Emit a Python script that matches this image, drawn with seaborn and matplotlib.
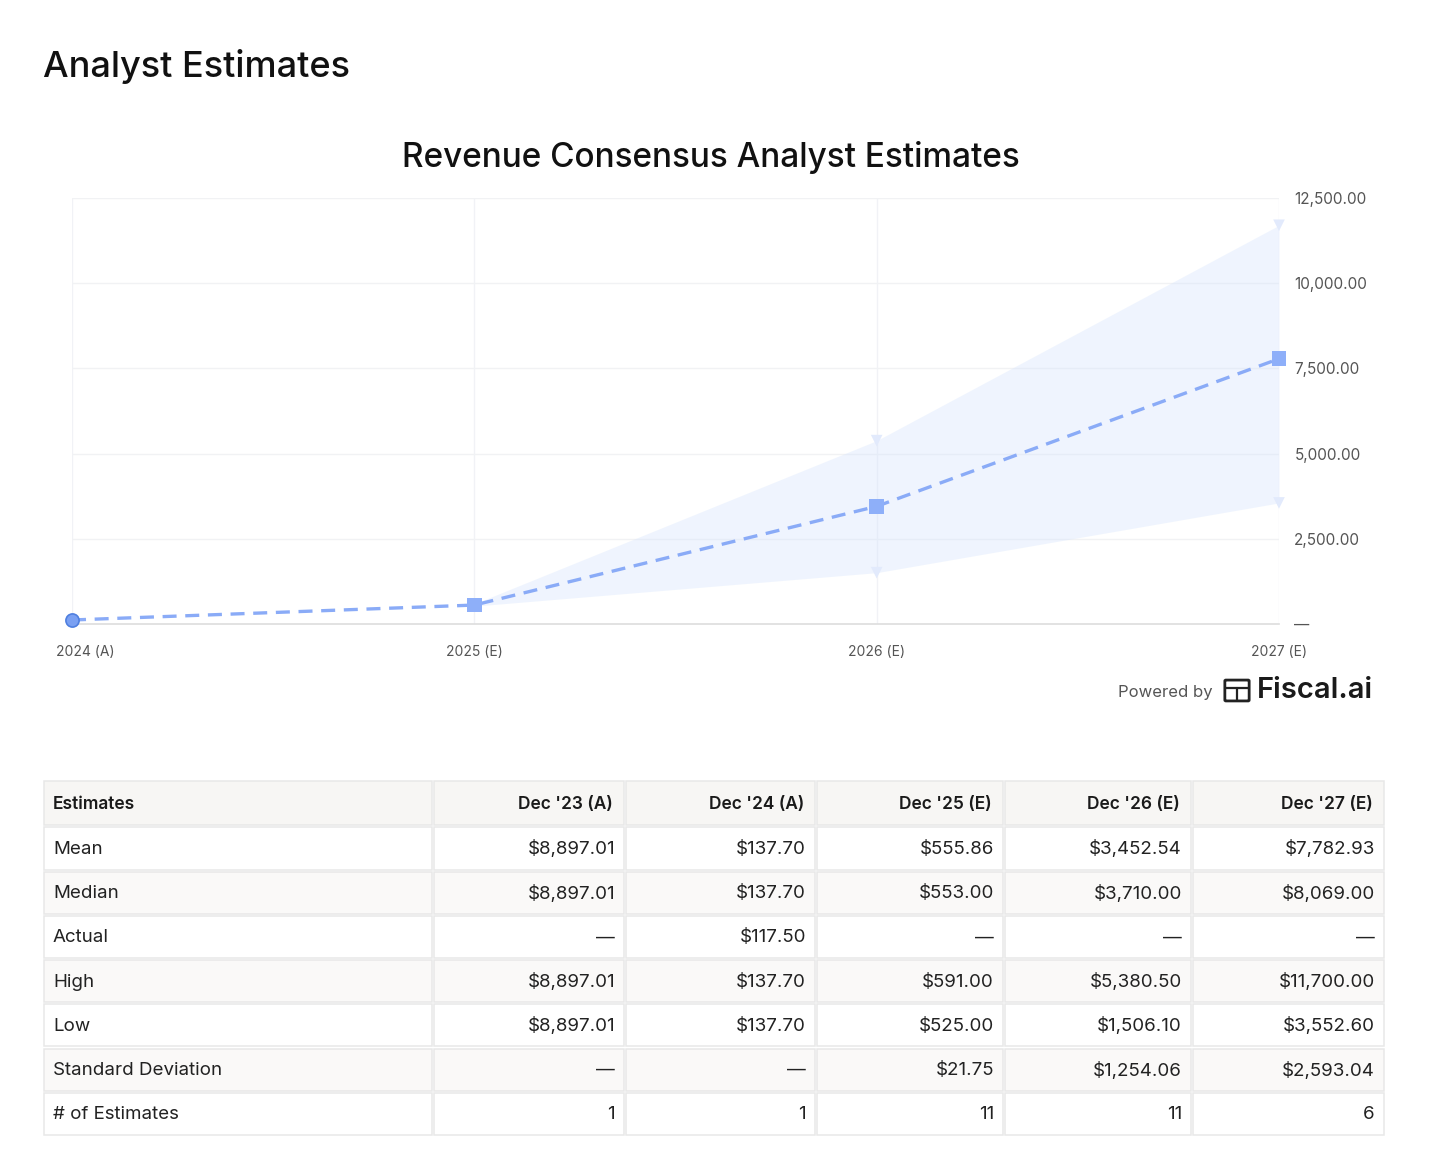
import matplotlib
matplotlib.use("Agg")
import matplotlib.pyplot as plt
import matplotlib.patches as mpatches
import matplotlib.transforms as mtransforms
import numpy as np
import pandas as pd
import seaborn as sns

# chart data
periods = ["2024 (A)", "2025 (E)", "2026 (E)", "2027 (E)"]
mean_vals = [117.50, 555.86, 3452.54, 7782.93]
high_vals = [np.nan, 591.00, 5380.50, 11700.00]
low_vals = [np.nan, 525.00, 1506.10, 3552.60]
y_ticks = [0, 2500, 5000, 7500, 10000, 12500]

# table data
col_headers = ["Estimates", "Dec '23 (A)", "Dec '24 (A)", "Dec '25 (E)", "Dec '26 (E)", "Dec '27 (E)"]
row_labels = ["Mean", "Median", "Actual", "High", "Low", "Standard Deviation", "# of Estimates"]
row_mean = ["$8,897.01", "$137.70", "$555.86", "$3,452.54", "$7,782.93"]
row_median = ["$8,897.01", "$137.70", "$553.00", "$3,710.00", "$8,069.00"]
row_actual = ["—", "$117.50", "—", "—", "—"]
row_high = ["$8,897.01", "$137.70", "$591.00", "$5,380.50", "$11,700.00"]
row_low = ["$8,897.01", "$137.70", "$525.00", "$1,506.10", "$3,552.60"]
row_std = ["—", "—", "$21.75", "$1,254.06", "$2,593.04"]
row_count = ["1", "1", "11", "11", "6"]
table_rows = [row_mean, row_median, row_actual, row_high, row_low, row_std, row_count]

W, H = 1436, 1166
sns.set_theme(style="white")
plt.rcParams["font.family"] = ["Inter", "DejaVu Sans"]

fig = plt.figure(figsize=(W / 100, H / 100), dpi=100)


def fx(px):
    return px / W


def fy(py):
    return 1 - py / H


fig.text(fx(43), fy(66), "Analyst Estimates", fontsize=26, fontweight="medium",
         color="#111111", ha="left", va="center")
fig.text(fx(711), fy(158), "Revenue Consensus Analyst Estimates", fontsize=24,
         fontweight="medium", color="#111111", ha="center", va="center")

# ---- chart ----
ax = fig.add_axes([fx(72), fy(624), fx(1279) - fx(72), fy(198) - fy(624)])
df = pd.DataFrame({"period": periods, "x": range(len(periods)),
                   "mean": mean_vals, "high": high_vals, "low": low_vals})

for xv in df["x"]:
    ax.axvline(xv, color="#f1f2f6", lw=1, zorder=0)
for yv in y_ticks[1:]:
    ax.axhline(yv, color="#f1f2f4", lw=1, zorder=0)

band = df.dropna()
ax.fill_between(band["x"], band["low"], band["high"], color="#d6e4fd", alpha=0.38,
                lw=0, zorder=1)
sns.scatterplot(data=band, x="x", y="high", marker="v", s=70, color="#e2eafc",
                edgecolor="none", ax=ax, zorder=2)
sns.scatterplot(data=band, x="x", y="low", marker="v", s=70, color="#e2eafc",
                edgecolor="none", ax=ax, zorder=2)
sns.lineplot(data=df, x="x", y="mean", color="#8aabf7", lw=2.4, ax=ax, zorder=3,
             linestyle=(0, (4.2, 2.6)))
est = df.iloc[1:]
sns.scatterplot(data=est, x="x", y="mean", marker="s", s=110, color="#8eaff9",
                edgecolor="none", ax=ax, zorder=4)
sns.scatterplot(data=df.iloc[:1], x="x", y="mean", marker="o", s=90, color="#7aa0f2",
                edgecolor="#4f7fdf", linewidth=1.2, ax=ax, zorder=4)
for coll in ax.collections:
    coll.set_clip_on(False)

ax.set_xlim(0, len(periods) - 1)
ax.set_ylim(0, 12500)
ax.set_xlabel("")
ax.set_ylabel("")
ax.set_xticks(df["x"])
ax.set_xticklabels(periods)
ax.yaxis.tick_right()
ax.set_yticks(y_ticks)
ax.set_yticklabels(["—"] + [f"{v:,.2f}" for v in y_ticks[1:]])
ax.tick_params(axis="x", length=0, pad=15, labelsize=10, labelcolor="#555555")
ax.tick_params(axis="y", length=0, pad=11, labelsize=11, labelcolor="#555555")
for lbl in ax.get_yticklabels():
    lbl.set_horizontalalignment("left")
first = ax.get_xticklabels()[0]
first.set_transform(first.get_transform() + mtransforms.ScaledTranslation(13 / 100, 0, fig.dpi_scale_trans))
for s in ["top", "left", "right"]:
    ax.spines[s].set_visible(False)
ax.spines["bottom"].set_color("#dddddd")
ax.spines["bottom"].set_linewidth(1.2)
ax.grid(False)

# powered by
fig.text(fx(1213), fy(692), "Powered by", fontsize=12, color="#555555",
         ha="right", va="center")
fig.text(fx(1257), fy(690), "Fiscal.ai", fontsize=21, fontweight="semibold",
         color="#1a1a1a", ha="left", va="center")
icon = mpatches.FancyBboxPatch((fx(1226), fy(700)), fx(22), fy(681) - fy(700),
                               boxstyle="round,pad=0.0008", transform=fig.transFigure,
                               facecolor="none", edgecolor="#222222", lw=2)
fig.patches.append(icon)
fig.add_artist(plt.Line2D([fx(1226), fx(1248)], [fy(688), fy(688)],
                          transform=fig.transFigure, color="#222222", lw=1.6))
fig.add_artist(plt.Line2D([fx(1237), fx(1237)], [fy(688), fy(700)],
                          transform=fig.transFigure, color="#222222", lw=1.6))

# ---- table ----
col_edges = [0, 390, 582, 773, 961, 1149, 1342]
header_h, row_h = 46, 44
tax = fig.add_axes([fx(43), fy(1137), fx(1385) - fx(43), fy(780) - fy(1137)])
tax.set_xlim(0, col_edges[-1])
tax.set_ylim(header_h + row_h * len(row_labels) + 1, 0)
tax.axis("off")


def cell(x0, x1, y0, h, face):
    tax.add_patch(mpatches.Rectangle((x0 + 1, y0 + 1), x1 - x0 - 2, h - 2,
                                     facecolor=face, edgecolor="#e8e8e8", lw=1.1))


for c in range(len(col_headers)):
    x0, x1 = col_edges[c], col_edges[c + 1]
    cell(x0, x1, 0, header_h, "#f7f6f4")
    if c == 0:
        tax.text(x0 + 10, header_h / 2 + 1, col_headers[c], ha="left", va="center",
                 fontsize=12.5, fontweight="semibold", color="#1a1a1a")
    else:
        tax.text(x1 - 12, header_h / 2 + 1, col_headers[c], ha="right", va="center",
                 fontsize=12.5, fontweight="semibold", color="#1a1a1a")

for r, (label, vals) in enumerate(zip(row_labels, table_rows)):
    y0 = header_h + r * row_h
    face = "#ffffff" if r % 2 == 0 else "#faf9f8"
    cell(col_edges[0], col_edges[1], y0, row_h, face)
    tax.text(10, y0 + row_h / 2 + 1, label, ha="left", va="center",
             fontsize=13.5, color="#222222")
    for c, v in enumerate(vals, start=1):
        x0, x1 = col_edges[c], col_edges[c + 1]
        cell(x0, x1, y0, row_h, face)
        tax.text(x1 - 10, y0 + row_h / 2 + 1, v, ha="right", va="center",
                 fontsize=13.5, color="#222222")

fig.savefig("out.png", dpi=100, facecolor="white")
